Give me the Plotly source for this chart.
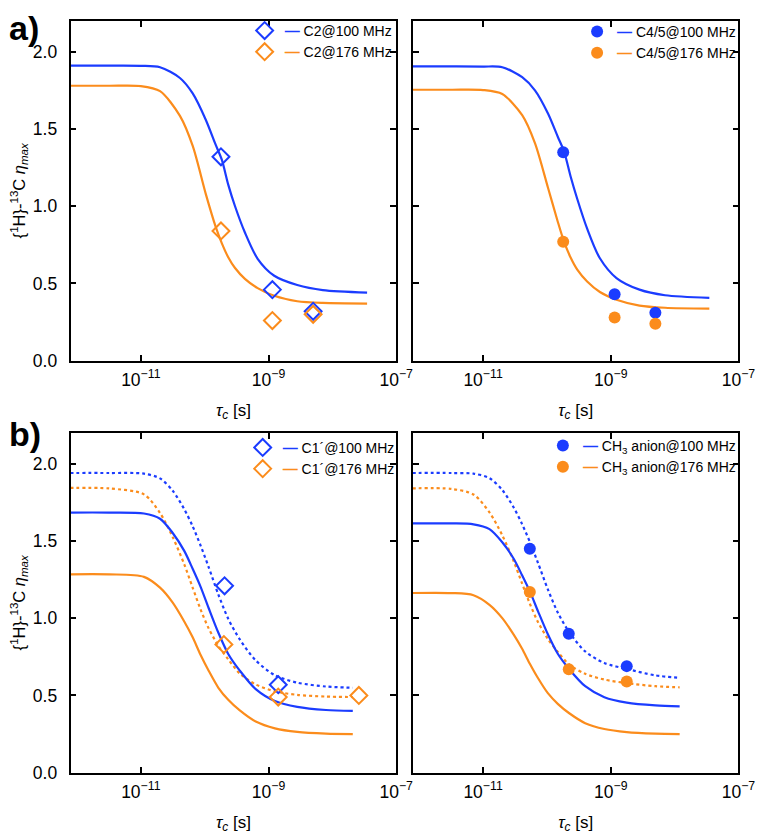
import plotly.graph_objects as go
from plotly.subplots import make_subplots

BLUE = "#1b3cff"
ORANGE = "#fb8c1c"
FONT = "Liberation Sans, Arial, sans-serif"

# ---------------- panel a) : fitted curves (read from picture) ----------------
tau_top = [7e-13, 3.2e-12, 1.0e-11, 2.0e-11, 4.1e-11, 6.5e-11, 1.04e-10, 1.48e-10,
           1.86e-10, 2.34e-10, 2.99e-10, 4.27e-10, 6.76e-10, 1.23e-9, 2.82e-9, 7.08e-9, 3.5e-8]
c2_100_fit = [1.91, 1.91, 1.909, 1.90, 1.83, 1.73, 1.56, 1.40, 1.30, 1.14, 1.00, 0.83,
              0.66, 0.55, 0.49, 0.457, 0.441]
c2_176_fit = [1.78, 1.78, 1.778, 1.745, 1.585, 1.39, 1.08, 0.87, 0.76, 0.67, 0.60, 0.53,
              0.47, 0.42, 0.385, 0.374, 0.37]
c45_100_fit = [1.905, 1.905, 1.904, 1.90, 1.835, 1.75, 1.60, 1.45, 1.354, 1.196, 1.047,
               0.855, 0.663, 0.535, 0.46, 0.424, 0.407]
c45_176_fit = [1.754, 1.754, 1.752, 1.726, 1.59, 1.409, 1.12, 0.90, 0.769, 0.67, 0.59,
               0.513, 0.445, 0.395, 0.357, 0.343, 0.337]

# panel a) : experimental points
tau_exp_top = [1.8e-10, 1.15e-9, 5.0e-9]
c2_100 = [1.32, 0.46, 0.32]
c2_176 = [0.84, 0.26, 0.30]
c45_100 = [1.35, 0.43, 0.31]
c45_176 = [0.77, 0.28, 0.24]

# ---------------- panel b) left : C1' ----------------
tau_bl = [6.3e-13, 3.2e-12, 1.12e-11, 2.0e-11, 3.16e-11, 4.79e-11, 6.46e-11, 8.61e-11,
          1.15e-10, 1.64e-10, 2.34e-10, 3.55e-10, 6.31e-10, 1.26e-9, 2.82e-9, 7.94e-9, 2.09e-8]
c1_100_fit_dot = [1.94, 1.94, 1.936, 1.905, 1.825, 1.706, 1.597, 1.472, 1.333, 1.153,
                  0.996, 0.863, 0.727, 0.631, 0.583, 0.558, 0.55]
c1_176_fit_dot = [1.843, 1.84, 1.802, 1.681, 1.525, 1.349, 1.20, 1.058, 0.936, 0.821,
                  0.734, 0.642, 0.571, 0.527, 0.504, 0.493, 0.49]
c1_100_fit = [1.684, 1.684, 1.678, 1.644, 1.552, 1.436, 1.322, 1.205, 1.068, 0.906,
              0.769, 0.661, 0.541, 0.464, 0.426, 0.406, 0.40]
c1_176_fit = [1.284, 1.284, 1.268, 1.198, 1.101, 0.979, 0.878, 0.764, 0.662, 0.55,
              0.472, 0.403, 0.331, 0.287, 0.264, 0.253, 0.25]
tau_c1_100 = [2.05e-10, 1.42e-9]
c1_100 = [1.21, 0.57]
tau_c1_176 = [2.0e-10, 1.42e-9, 2.6e-8]
c1_176 = [0.83, 0.49, 0.50]

# ---------------- panel b) right : CH3 anion ----------------
tau_br = [6.3e-13, 3.2e-12, 7.08e-12, 1.26e-11, 2.0e-11, 3.02e-11, 4.07e-11, 5.43e-11,
          7.24e-11, 1.035e-10, 1.48e-10, 2.24e-10, 3.98e-10, 7.94e-10, 1.78e-9, 5.01e-9, 1.2e-8]
ch3_100_fit_dot = [1.94, 1.94, 1.936, 1.907, 1.83, 1.717, 1.611, 1.492, 1.359, 1.187,
                   1.037, 0.909, 0.785, 0.71, 0.672, 0.63, 0.615]
ch3_176_fit_dot = [1.84, 1.837, 1.801, 1.685, 1.537, 1.369, 1.227, 1.092, 0.976, 0.866,
                   0.782, 0.70, 0.64, 0.603, 0.58, 0.56, 0.553]
ch3_100_fit = [1.614, 1.614, 1.608, 1.577, 1.492, 1.385, 1.280, 1.172, 1.046, 0.896,
               0.770, 0.670, 0.560, 0.489, 0.454, 0.436, 0.430]
ch3_176_fit = [1.163, 1.163, 1.149, 1.087, 1.001, 0.894, 0.804, 0.704, 0.613, 0.515,
               0.446, 0.385, 0.321, 0.283, 0.263, 0.253, 0.25]
tau_ch3 = [5.4e-11, 2.2e-10, 1.78e-9]
ch3_100 = [1.45, 0.90, 0.69]
ch3_176 = [1.17, 0.67, 0.59]

x_tickvals = [1e-11, 1e-9, 1e-7]
x_ticktext = ["10<sup>−11</sup>", "10<sup>−9</sup>", "10<sup>−7</sup>"]
y_tickvals = [0.0, 0.5, 1.0, 1.5, 2.0]

fig = make_subplots(rows=2, cols=2)


def line(x, y, color, row, col, dash="solid"):
    fig.add_trace(go.Scatter(x=x, y=y, mode="lines", line=dict(color=color, width=2.2, dash=dash,
                                                               shape="spline", smoothing=0.8),
                             showlegend=False, hoverinfo="skip"), row=row, col=col)


def pts(x, y, color, name, symbol, legend, row, col):
    if symbol == "diamond-open":
        marker = dict(symbol=symbol, size=13, color=color, line=dict(color=color, width=2))
    else:
        marker = dict(symbol=symbol, size=12, color=color, line=dict(width=0))
    label = ('<span style="color:%s;font-size:15px;font-weight:bold">—</span> %s'
             % (color, name))
    fig.add_trace(go.Scatter(x=x, y=y, mode="markers", marker=marker, name=label,
                             legend=legend, showlegend=True), row=row, col=col)


# a) left
line(tau_top, c2_100_fit, BLUE, 1, 1)
line(tau_top, c2_176_fit, ORANGE, 1, 1)
pts(tau_exp_top, c2_100, BLUE, "C2@100 MHz", "diamond-open", "legend", 1, 1)
pts(tau_exp_top, c2_176, ORANGE, "C2@176 MHz", "diamond-open", "legend", 1, 1)
# a) right
line(tau_top, c45_100_fit, BLUE, 1, 2)
line(tau_top, c45_176_fit, ORANGE, 1, 2)
pts(tau_exp_top, c45_100, BLUE, "C4/5@100 MHz", "circle", "legend2", 1, 2)
pts(tau_exp_top, c45_176, ORANGE, "C4/5@176 MHz", "circle", "legend2", 1, 2)
# b) left
line(tau_bl, c1_100_fit_dot, BLUE, 2, 1, "dot")
line(tau_bl, c1_176_fit_dot, ORANGE, 2, 1, "dot")
line(tau_bl, c1_100_fit, BLUE, 2, 1)
line(tau_bl, c1_176_fit, ORANGE, 2, 1)
pts(tau_c1_100, c1_100, BLUE, "C1´@100 MHz", "diamond-open", "legend3", 2, 1)
pts(tau_c1_176, c1_176, ORANGE, "C1´@176 MHz", "diamond-open", "legend3", 2, 1)
# b) right
line(tau_br, ch3_100_fit_dot, BLUE, 2, 2, "dot")
line(tau_br, ch3_176_fit_dot, ORANGE, 2, 2, "dot")
line(tau_br, ch3_100_fit, BLUE, 2, 2)
line(tau_br, ch3_176_fit, ORANGE, 2, 2)
pts(tau_ch3, ch3_100, BLUE, "CH<sub>3</sub> anion@100 MHz", "circle", "legend4", 2, 2)
pts(tau_ch3, ch3_176, ORANGE, "CH<sub>3</sub> anion@176 MHz", "circle", "legend4", 2, 2)

W, H = 767, 835
xdom_l = [64 / W, 397 / W]
xdom_r = [414 / W, 747 / W]
ydom_t = [1 - 357 / H, 1 - 13 / H]
ydom_b = [1 - 774 / H, 1 - 430 / H]

axis_common = dict(showline=True, linecolor="black", linewidth=1.8, mirror="allticks",
                   ticks="inside", ticklen=6, tickwidth=1.6, tickcolor="black",
                   showgrid=False, zeroline=False,
                   tickfont=dict(family=FONT, size=17.5, color="black"))

xt = dict(text="<i>τ<sub>c</sub></i> [s]", font=dict(family=FONT, size=17, color="black"), standoff=15)
yt = dict(text="{<sup>1</sup>H}-<sup>13</sup>C <i>η<sub>max</sub></i>",
          font=dict(family=FONT, size=16.5, color="black"), standoff=6)

for i, (xd, yd) in enumerate([(xdom_l, ydom_t), (xdom_r, ydom_t), (xdom_l, ydom_b), (xdom_r, ydom_b)]):
    sfx = "" if i == 0 else str(i + 1)
    fig.layout["xaxis" + sfx].update(type="log", range=[-12.1, -7.0], domain=xd,
                                     tickvals=x_tickvals, ticktext=x_ticktext, title=xt,
                                     ticklabelstandoff=2, **axis_common)
    fig.layout["yaxis" + sfx].update(range=[0, 2.2], domain=yd, tickvals=y_tickvals,
                                     tickformat=".1f", ticklabelstandoff=8, **axis_common)
    if i in (0, 2):
        fig.layout["yaxis" + sfx].update(title=yt)
    else:
        fig.layout["yaxis" + sfx].update(showticklabels=False)

leg_common = dict(xanchor="left", yanchor="top", bgcolor="rgba(0,0,0,0)", borderwidth=0,
                  font=dict(family=FONT, size=14, color="black"), itemwidth=30,
                  tracegroupgap=0)
fig.update_layout(
    legend=dict(x=242 / W, y=1 - 7 / H, **leg_common),
    legend2=dict(x=582 / W, y=1 - 8 / H, **leg_common),
    legend3=dict(x=240 / W, y=1 - 429 / H, **leg_common),
    legend4=dict(x=547 / W, y=1 - 427 / H, **leg_common),
)

fig.add_annotation(text="<b>a)</b>", x=0, y=1, xref="paper", yref="paper",
                   xanchor="left", yanchor="top", showarrow=False, borderpad=0,
                   font=dict(family=FONT, size=34, color="black"))
fig.add_annotation(text="<b>b)</b>", x=0, y=1 - 411 / H, xref="paper", yref="paper",
                   xanchor="left", yanchor="top", showarrow=False, borderpad=0,
                   font=dict(family=FONT, size=34, color="black"))

fig.update_layout(width=W, height=H, margin=dict(l=0, r=0, t=0, b=0),
                  paper_bgcolor="white", plot_bgcolor="white",
                  font=dict(family=FONT, color="black"))

fig.write_html("out.html")
